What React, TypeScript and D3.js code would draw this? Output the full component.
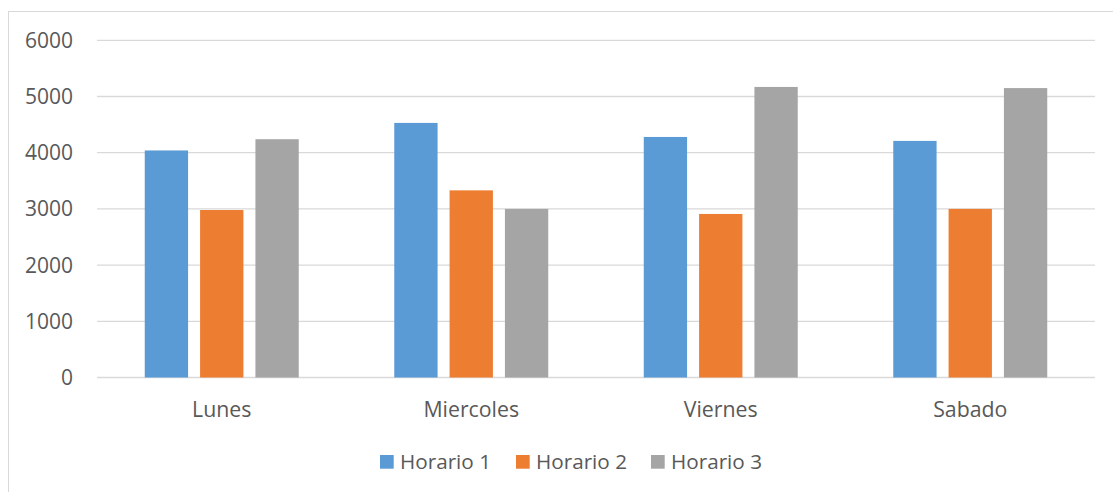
import React from "react";
import * as d3 from "d3";

const categories = ["Lunes", "Miercoles", "Viernes", "Sabado"];
const seriesNames = ["Horario 1", "Horario 2", "Horario 3"];
const horario1 = [4040, 4530, 4280, 4210];
const horario2 = [2980, 3330, 2910, 3000];
const horario3 = [4240, 3000, 5170, 5150];
const yTicks = [0, 1000, 2000, 3000, 4000, 5000, 6000];
const colors = ["#5B9BD5", "#ED7D31", "#A5A5A5"];

const W = 1113;
const H = 492;
const plot = { left: 97, right: 1095, top: 40.3, bottom: 377.5 };
const font = "'Open Sans', 'Noto Sans', sans-serif";
const textColor = "#595959";

export default function App() {
  const series = [horario1, horario2, horario3];
  const x0 = d3.scaleBand<string>().domain(categories).range([plot.left, plot.right]).padding(0);
  const bw = x0.bandwidth();
  const x1 = d3
    .scaleBand<string>()
    .domain(seriesNames)
    .range([bw * 0.1914, bw * 0.8086])
    .paddingInner(0.217)
    .paddingOuter(0);
  const y = d3.scaleLinear().domain([0, 6000]).range([plot.bottom, plot.top]);

  const legendItems = [
    { name: seriesNames[0], sx: 380, tx: 400 },
    { name: seriesNames[1], sx: 516, tx: 536 },
    { name: seriesNames[2], sx: 651, tx: 671 },
  ];

  return (
    <svg
      width={W}
      height={H}
      style={{ position: "fixed", left: 0, top: 0, background: "#fff" }}
    >
      <rect x={0} y={0} width={W} height={H} fill="#fff" />
      <rect x={8.5} y={11.5} width={W + 20} height={H + 20} fill="none" stroke="#D9D9D9" strokeWidth={1} />
      {yTicks.map((t) => (
        <g key={t}>
          <line x1={plot.left} x2={plot.right} y1={y(t)} y2={y(t)} stroke="#D9D9D9" strokeWidth={1.3} />
          <text
            x={73}
            y={y(t)}
            dy="0.36em"
            textAnchor="end"
            fontFamily={font}
            fontSize={21}
            fill={textColor}
          >
            {t}
          </text>
        </g>
      ))}
      {categories.map((c, ci) => (
        <g key={c} transform={`translate(${x0(c)},0)`}>
          {series.map((vals, si) => (
            <rect
              key={si}
              x={x1(seriesNames[si])}
              y={y(vals[ci])}
              width={x1.bandwidth()}
              height={y(0) - y(vals[ci])}
              fill={colors[si]}
            />
          ))}
          <text
            x={bw / 2}
            y={417}
            textAnchor="middle"
            fontFamily={font}
            fontSize={21.3}
            fill={textColor}
          >
            {c}
          </text>
        </g>
      ))}
      {legendItems.map((it, i) => (
        <g key={it.name}>
          <rect x={it.sx} y={455} width={13.7} height={13.7} fill={colors[i]} />
          <text x={it.tx} y={469} fontFamily={font} fontSize={20.7} fill={textColor}>
            {it.name}
          </text>
        </g>
      ))}
    </svg>
  );
}
